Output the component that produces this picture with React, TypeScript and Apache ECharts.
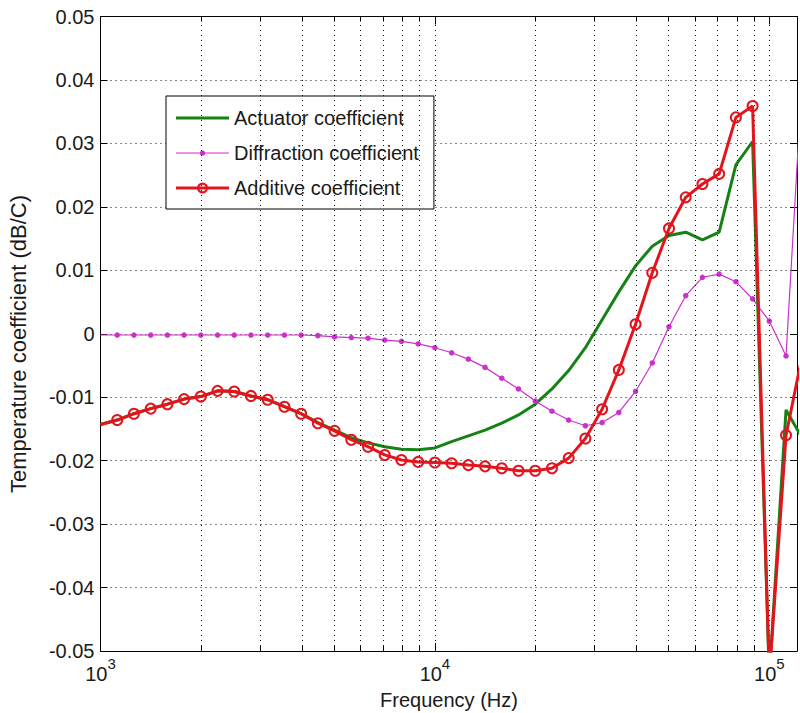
import React, { useEffect, useRef } from 'react';
import * as echarts from 'echarts';

// Frequencies (Hz), 20 points per decade
const frequencies = [
  1000, 1122, 1259, 1413, 1585, 1778, 1995, 2239, 2512, 2818,
  3162, 3548, 3981, 4467, 5012, 5623, 6310, 7079, 7943, 8913,
  10000, 11220, 12589, 14125, 15849, 17783, 19953, 22387, 25119, 28184,
  31623, 35481, 39811, 44668, 50119, 56234, 63096, 70795, 79433, 89125,
  100000, 112202, 125893,
];

const actuator = [
  -0.0143, -0.0136, -0.0126, -0.0118, -0.0111, -0.0103, -0.0099, -0.0090, -0.0091, -0.0098,
  -0.0104, -0.0115, -0.0126, -0.0140, -0.0152, -0.0164, -0.0172, -0.0178, -0.0182, -0.0183,
  -0.0180, -0.0170, -0.0161, -0.0152, -0.0141, -0.0128, -0.0111, -0.0087, -0.0058, -0.0022,
  0.0022, 0.0066, 0.0107, 0.0138, 0.0155, 0.0160, 0.0148, 0.0160, 0.0266, 0.0303,
  -0.054, -0.012, -0.0166,
];

const diffraction = [
  -0.0002, -0.0002, -0.0002, -0.0002, -0.0002, -0.0002, -0.0002, -0.0002, -0.0002, -0.0002,
  -0.0002, -0.0002, -0.0002, -0.0003, -0.0005, -0.0006, -0.0007, -0.0010, -0.0012, -0.0016,
  -0.0022, -0.0030, -0.0040, -0.0053, -0.0070, -0.0087, -0.0106, -0.0122, -0.0136, -0.0145,
  -0.0140, -0.0124, -0.0091, -0.0046, 0.0011, 0.0060, 0.0089, 0.0094, 0.0082, 0.0055,
  0.0020, -0.0035, 0.042,
];

const additive = [
  -0.0143, -0.0136, -0.0126, -0.0118, -0.0111, -0.0103, -0.0099, -0.0090, -0.0091, -0.0098,
  -0.0104, -0.0115, -0.0126, -0.0141, -0.0153, -0.0167, -0.0178, -0.0191, -0.0199, -0.0202,
  -0.0203, -0.0204, -0.0207, -0.0209, -0.0212, -0.0216, -0.0216, -0.0212, -0.0196, -0.0165,
  -0.0119, -0.0057, 0.0015, 0.0096, 0.0166, 0.0215, 0.0236, 0.0252, 0.0341, 0.0359,
  -0.054, -0.016, -0.003,
];

const seriesNames = ['Actuator coefficient', 'Diffraction coefficient', 'Additive coefficient'];
const gridFrequencies = [
  2000, 3000, 4000, 5000, 6000, 7000, 8000, 9000, 10000,
  20000, 30000, 40000, 50000, 60000, 70000, 80000, 90000, 100000,
];
const minorTickFrequencies = [
  2000, 3000, 4000, 5000, 6000, 7000, 8000, 9000,
  20000, 30000, 40000, 50000, 60000, 70000, 80000, 90000,
];
const xMin = 1000;
const xMax = 121000;
const yMin = -0.05;
const yMax = 0.05;
const yStep = 0.01;

const FONT = '"Liberation Sans", Arial, Helvetica, sans-serif';
const GREEN = '#168216';
const MAGENTA = '#cc30cc';
const RED = '#e3141c';
const TEXT = '#1a1a1a';
const DOTS = '#111';

function toData(vals: number[], noFirstSymbol: boolean) {
  return frequencies.map((f, i) =>
    i === 0 && noFirstSymbol ? { value: [f, vals[i]], symbol: 'none' } : [f, vals[i]]
  );
}

export default function App() {
  const ref = useRef<HTMLDivElement>(null);
  useEffect(() => {
    if (!ref.current) return;
    const chart = echarts.init(ref.current, undefined, { renderer: 'svg' });
    const minorLen = 5 / 6343; // ~5px in data units
    const tickSegs: any[] = [];
    minorTickFrequencies.forEach((f) => {
      tickSegs.push([{ coord: [f, yMin] }, { coord: [f, yMin + minorLen] }]);
      tickSegs.push([{ coord: [f, yMax] }, { coord: [f, yMax - minorLen] }]);
    });
    const option: any = {
      animation: false,
      backgroundColor: '#ffffff',
      textStyle: { fontFamily: FONT },
      grid: { left: 100.5, right: -0.5, top: 16.5, bottom: 62, containLabel: false },
      xAxis: [
        {
          type: 'log',
          logBase: 10,
          min: xMin,
          max: xMax,
          position: 'bottom',
          axisLine: { show: true, onZero: false, lineStyle: { color: '#000', width: 1 } },
          axisTick: { show: true, inside: true, length: 8, lineStyle: { color: '#000' } },
          splitLine: { show: false },
          minorTick: { show: false },
          axisLabel: {
            margin: 5,
            color: TEXT,
            formatter: (v: number) => {
              const l = Math.log10(v);
              const e = Math.round(l);
              if (Math.abs(l - e) > 1e-6) return '';
              return `{b|10}{s|${e}}`;
            },
            rich: {
              b: { fontSize: 20, lineHeight: 36, color: TEXT, fontFamily: FONT },
              s: { fontSize: 15, lineHeight: 15, verticalAlign: 'top', color: TEXT, fontFamily: FONT },
            },
          },
        },
        {
          type: 'log',
          logBase: 10,
          min: xMin,
          max: xMax,
          position: 'top',
          axisLine: { show: true, onZero: false, lineStyle: { color: '#000', width: 1 } },
          axisTick: { show: true, inside: true, length: 8, lineStyle: { color: '#000' } },
          axisLabel: { show: false },
          splitLine: { show: false },
        },
      ],
      yAxis: [
        {
          type: 'value',
          min: yMin,
          max: yMax,
          interval: yStep,
          position: 'left',
          axisLine: { show: true, onZero: false, lineStyle: { color: '#000', width: 1 } },
          axisTick: { show: true, inside: true, length: 7, lineStyle: { color: '#000' } },
          splitLine: { show: true, lineStyle: { color: DOTS, width: 1, type: [1, 4] } },
          axisLabel: {
            margin: 6,
            color: TEXT,
            fontSize: 20,
            fontFamily: FONT,
            formatter: (v: number) => (Math.abs(v) < 1e-9 ? '0' : v.toFixed(2)),
          },
        },
        {
          type: 'value',
          min: yMin,
          max: yMax,
          interval: yStep,
          position: 'right',
          axisLine: { show: true, onZero: false, lineStyle: { color: '#000', width: 1 } },
          axisTick: { show: true, inside: true, length: 7, lineStyle: { color: '#000' } },
          splitLine: { show: false },
          axisLabel: { show: false },
        },
      ],
      legend: {
        orient: 'vertical',
        left: 166,
        top: 96,
        padding: [12, 15, 11, 10],
        itemWidth: 53,
        itemHeight: 20,
        itemGap: 15,
        backgroundColor: '#ffffff',
        borderColor: '#000',
        borderWidth: 1,
        borderRadius: 0,
        selectedMode: false,
        textStyle: { fontSize: 20, lineHeight: 20, color: TEXT, fontFamily: FONT },
        data: [
          {
            name: seriesNames[0],
            icon: 'path://M0 -1.5 H53 V1.5 H0 Z',
            itemStyle: { color: GREEN, borderWidth: 0 },
          },
          {
            name: seriesNames[1],
            icon: 'path://M0 -0.6 H53 V0.6 H0 Z M23.9 0 A2.6 2.6 0 1 1 29.1 0 A2.6 2.6 0 1 1 23.9 0 Z',
            itemStyle: { color: MAGENTA, borderWidth: 0 },
          },
          {
            name: seriesNames[2],
            icon: 'path://M0 -1.5 H53 V1.5 H0 Z M21 0 A5.5 5.5 0 1 1 32 0 A5.5 5.5 0 1 1 21 0 Z M23.3 0 A3.2 3.2 0 1 0 29.7 0 A3.2 3.2 0 1 0 23.3 0 Z',
            itemStyle: { color: RED, borderWidth: 0 },
          },
        ],
      },
      graphic: [
        {
          type: 'text',
          x: 449,
          y: 700,
          style: {
            text: 'Frequency (Hz)',
            fontSize: 20,
            fontFamily: FONT,
            fill: TEXT,
            textAlign: 'center',
            textVerticalAlign: 'middle',
          },
        },
        {
          type: 'text',
          x: 18.5,
          y: 344,
          rotation: Math.PI / 2,
          style: {
            text: 'Temperature coefficient (dB/C)',
            fontSize: 22,
            fontFamily: FONT,
            fill: TEXT,
            textAlign: 'center',
            textVerticalAlign: 'middle',
          },
        },
      ],
      series: [
        {
          name: 'grid-lines',
          type: 'line',
          data: [],
          z: 1,
          silent: true,
          markLine: {
            silent: true,
            symbol: 'none',
            label: { show: false },
            lineStyle: { color: DOTS, width: 1, type: [1, 4] },
            data: gridFrequencies.map((f) => ({ xAxis: f })),
          },
        },
        {
          name: 'minor-ticks',
          type: 'line',
          data: [],
          z: 1,
          silent: true,
          markLine: {
            silent: true,
            symbol: 'none',
            label: { show: false },
            lineStyle: { color: '#000', width: 1, type: 'solid' },
            data: tickSegs,
          },
        },
        {
          name: seriesNames[0],
          type: 'line',
          z: 3,
          data: toData(actuator, true),
          symbol: 'none',
          lineStyle: { color: GREEN, width: 3 },
          itemStyle: { color: GREEN },
        },
        {
          name: seriesNames[1],
          type: 'line',
          z: 4,
          data: toData(diffraction, true),
          symbol: 'circle',
          symbolSize: 5.5,
          lineStyle: { color: MAGENTA, width: 1.2 },
          itemStyle: { color: MAGENTA },
        },
        {
          name: seriesNames[2],
          type: 'line',
          z: 5,
          data: toData(additive, true),
          symbol: 'circle',
          symbolSize: 10,
          lineStyle: { color: RED, width: 3 },
          itemStyle: { color: 'rgba(0,0,0,0)', borderColor: RED, borderWidth: 2 },
        },
      ],
    };
    chart.setOption(option);
    return () => chart.dispose();
  }, []);
  return <div ref={ref} style={{ width: 800, height: 713, position: 'absolute', left: 0, top: 0 }} />;
}
